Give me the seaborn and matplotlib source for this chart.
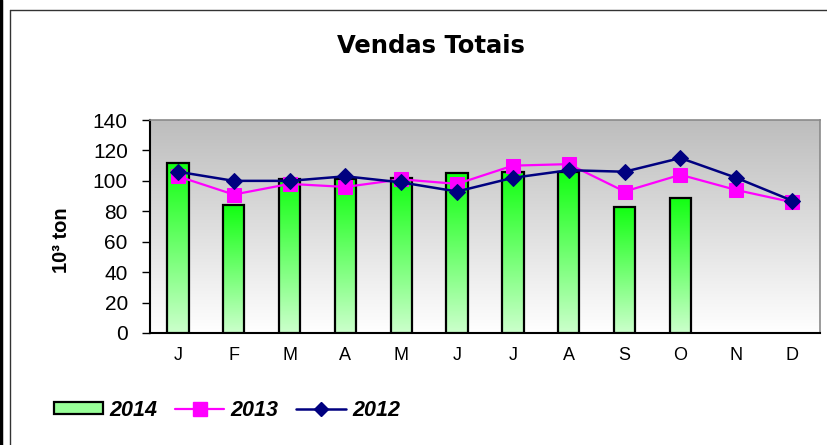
import matplotlib.pyplot as plt
import numpy as np
import pandas as pd
import seaborn as sns
from matplotlib.colors import LinearSegmentedColormap
from matplotlib.lines import Line2D
from matplotlib.patches import Patch

# Data (10^3 ton)
months = ["J", "F", "M", "A", "M", "J", "J", "A", "S", "O", "N", "D"]
vendas_2014 = [112, 84, 101, 101, 102, 105, 106, 106, 83, 89]
vendas_2013 = [103, 91, 98, 96, 101, 98, 110, 111, 93, 104, 94, 86]
vendas_2012 = [106, 100, 100, 103, 99, 93, 102, 107, 106, 115, 102, 87]

sns.set_style("white")
plt.rcParams["font.family"] = ["Liberation Sans", "DejaVu Sans"]
plt.rcParams["text.color"] = "black"
plt.rcParams["xtick.color"] = "black"
plt.rcParams["ytick.color"] = "black"
plt.rcParams["axes.labelcolor"] = "black"

fig = plt.figure(figsize=(8.28, 4.45), dpi=100)
ax = fig.add_axes([150 / 828, 1 - 333 / 445, 670 / 828, 213 / 445])

df14 = pd.DataFrame({"pos": np.arange(len(vendas_2014)), "valor": vendas_2014})
sns.barplot(data=df14, x="pos", y="valor", order=list(range(12)), width=0.38,
            color="#66ff66", edgecolor="black", linewidth=1.6, ax=ax, zorder=3)

# gradient fill for plot area and bars
bg_cmap = LinearSegmentedColormap.from_list("bg", ["#ffffff", "#bdbdbd"])
bar_cmap = LinearSegmentedColormap.from_list("bar", ["#ccffcc", "#11ff11"])
grad = np.linspace(0, 1, 256).reshape(-1, 1)
ax.imshow(grad, extent=[-0.5, 11.5, 0, 140], origin="lower", aspect="auto",
          cmap=bg_cmap, zorder=0)
for p in ax.patches:
    x0, y0, w, h = p.get_x(), p.get_y(), p.get_width(), p.get_height()
    im = ax.imshow(grad, extent=[x0, x0 + w, y0, y0 + h], origin="lower",
                   aspect="auto", cmap=bar_cmap, zorder=3)
    im.set_clip_path(p)
    p.set_facecolor("none")
    p.set_zorder(4)

pos = np.arange(12)
sns.lineplot(x=pos, y=vendas_2013, color="#ff00ff", marker="s", markersize=10,
             markeredgecolor="#ff00ff", linewidth=1.6, ax=ax, zorder=5)
sns.lineplot(x=pos, y=vendas_2012, color="#000080", marker="D", markersize=8,
             markeredgecolor="#000080", linewidth=1.8, ax=ax, zorder=6)

ax.set_xlim(-0.5, 11.5)
ax.set_ylim(0, 140)
ax.set_yticks(range(0, 141, 20))
ax.set_xticks(pos)
ax.set_xticklabels(months, fontsize=13)
ax.set_xticks(np.arange(-0.5, 12, 1), minor=True)
ax.tick_params(axis="x", which="major", length=0, pad=10)
ax.tick_params(axis="x", which="minor", length=5, width=1, color="black", direction="out")
ax.tick_params(axis="y", length=6, width=1, color="black", labelsize=15,
               direction="out", left=True, pad=10)
ax.set_xlabel("")
ax.set_ylabel("")

for side in ["left", "bottom"]:
    ax.spines[side].set_color("black")
    ax.spines[side].set_linewidth(1.5)
for side in ["top", "right"]:
    ax.spines[side].set_visible(True)
    ax.spines[side].set_color("#8a8a8a")
    ax.spines[side].set_linewidth(1.2)

fig.text(62 / 828, 1 - 240 / 445, "10³ ton", rotation=90, ha="center", va="center",
         fontsize=14.5, fontweight="bold")
fig.text(431 / 828, 1 - 46 / 445, "Vendas Totais", ha="center", va="center",
         fontsize=17.5, fontweight="bold", family="DejaVu Sans")

handles = [
    Patch(facecolor="#99ff99", edgecolor="black", linewidth=1.6),
    Line2D([], [], color="#ff00ff", marker="s", markersize=10, linewidth=1.6),
    Line2D([], [], color="#000080", marker="D", markersize=7, linewidth=1.8),
]
fig.legend(handles, ["2014", "2013", "2012"], loc="center left",
           bbox_to_anchor=(45 / 828, 1 - 410 / 445), ncol=3, frameon=False,
           prop={"weight": "bold", "style": "italic", "size": 15.5},
           handlelength=2.3, handleheight=0.45, handletextpad=0.3,
           columnspacing=0.8, borderaxespad=0)

# frame lines of the original screenshot
fig.add_artist(Line2D([1.5 / 828, 1.5 / 828], [0, 1], color="black", linewidth=2.5))
fig.add_artist(Line2D([10 / 828, 10 / 828], [0, 1 - 10 / 445], color="#333333", linewidth=1))
fig.add_artist(Line2D([10 / 828, 1], [1 - 10 / 445, 1 - 10 / 445], color="#333333", linewidth=1))

fig.savefig("out.png", dpi=100)
